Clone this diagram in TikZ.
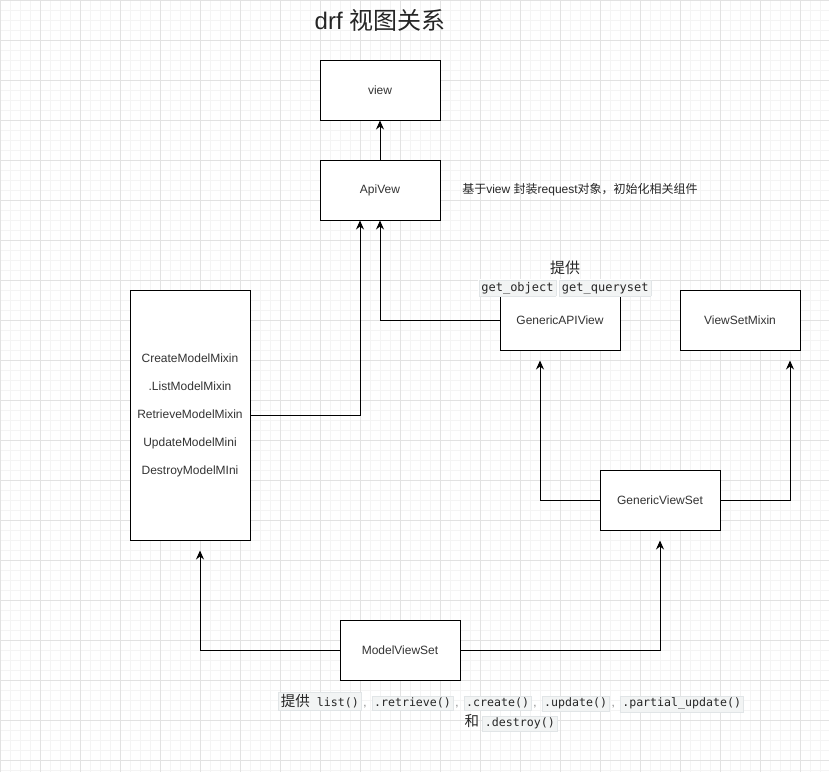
\documentclass[tikz,border=0pt]{standalone}
\usepackage{fontspec}
\setmainfont{Liberation Sans}
\newfontfamily\cjk{Noto Sans CJK SC}
\newfontfamily\codefont{DejaVu Sans Mono}
\usetikzlibrary{arrows.meta,positioning}
\definecolor{gridmajor}{HTML}{E2E2E2}
\definecolor{gridminor}{HTML}{F4F4F4}
\definecolor{codebg}{HTML}{F2F4F4}
\definecolor{codeline}{HTML}{E1E5E7}
\definecolor{boxtext}{HTML}{333333}
\tikzset{class node/.style={rectangle, draw=black, fill=white, line width=1pt,
    minimum width=120pt, minimum height=60pt, inner sep=0pt,
    font=\fontsize{12}{14}\selectfont, text=boxtext}}
\tikzset{mixin node/.style={class node, minimum height=250pt, align=center,
    font=\fontsize{12}{28}\selectfont}}
\tikzset{inherit edge/.style={draw=black, line width=1pt,
    -{Stealth[length=9pt,width=8pt,inset=3pt]}}}
\tikzset{note/.style={inner sep=0pt, text=black!85}}
\newcommand{\code}[1]{{\setlength{\fboxsep}{2pt}\setlength{\fboxrule}{0.5pt}%
    \fcolorbox{codeline}{codebg}{\codefont\vphantom{(}#1}}}
\newcommand{\sepcomma}{\hspace{2pt}{\color{gray},}\hspace{5pt}}

\begin{document}
\begin{tikzpicture}
  [x=1pt, y=-1pt]
  \fill [white] (0,0) rectangle (829,772);
  \useasboundingbox (0,0) rectangle (829,772);
  \draw [gridminor, line width=0.8pt, step=10pt] (0,0) grid (829,772);
  \draw [gridmajor, line width=0.8pt, step=40pt] (0,0) grid (829,772);

  \node [note, font=\fontsize{24}{28}\selectfont] (title) at (380, 20) {drf {\cjk 视图关系}};

  \node [class node]    (view)    at (380,  90) {view};
  \node [class node]    (apiview) at (380, 190) {ApiVew};
  \node [mixin node]    (mixins)  at (190, 415) {CreateModelMixin\\.ListModelMixin\\RetrieveModelMixin\\UpdateModelMini\\DestroyModelMIni};
  \node [class node]    (genapi)  at (560, 320) {GenericAPIView};
  \node [class node]    (vsmixin) at (740, 320) {ViewSetMixin};
  \node [class node]    (genvs)   at (660, 500) {GenericViewSet};
  \node [class node]    (mvs)     at (400, 650) {ModelViewSet};

  \node [note, font=\fontsize{12}{14}\selectfont] (apinote) at (580, 190)
    {{\cjk 基于}view {\cjk 封装}request{\cjk 对象，初始化相关组件}};
  \node [note, font=\cjk\fontsize{15}{18}\selectfont] (provide) at (565, 268) {提供};
  \node [note, fill=white, inner sep=1pt, font=\fontsize{12}{14}\selectfont] (apimethods) at (565, 288)
    {\code{get\_object} \code{get\_queryset}};
  \node [note, align=center, font=\fontsize{11.6}{20}\selectfont] (mvsnote) at (511, 712)
    {\code{{\cjk\fontsize{14.5}{20}\selectfont 提供} list()}\sepcomma\code{.retrieve()}\sepcomma\code{.create()}\sepcomma\code{.update()}\sepcomma\code{.partial\_update()}\\
     {\cjk\fontsize{14.5}{20}\selectfont 和} \code{.destroy()}};

  \draw [inherit edge] (apiview) to (view);
  \draw [inherit edge] (genapi.west) -| (apiview.south);
  \draw [inherit edge] (mixins.east) -| ([xshift=-20pt]apiview.south);
  \draw [inherit edge] (genvs.west)  -| ([xshift=-20pt, yshift=-10pt]genapi.south);
  \draw [inherit edge] (genvs.east)  -| ([xshift=50pt, yshift=-10pt]vsmixin.south);
  \draw [inherit edge] (mvs.west)    -| ([xshift=10pt, yshift=-10pt]mixins.south);
  \draw [inherit edge] (mvs.east)    -| ([yshift=-10pt]genvs.south);
\end{tikzpicture}
\end{document}
